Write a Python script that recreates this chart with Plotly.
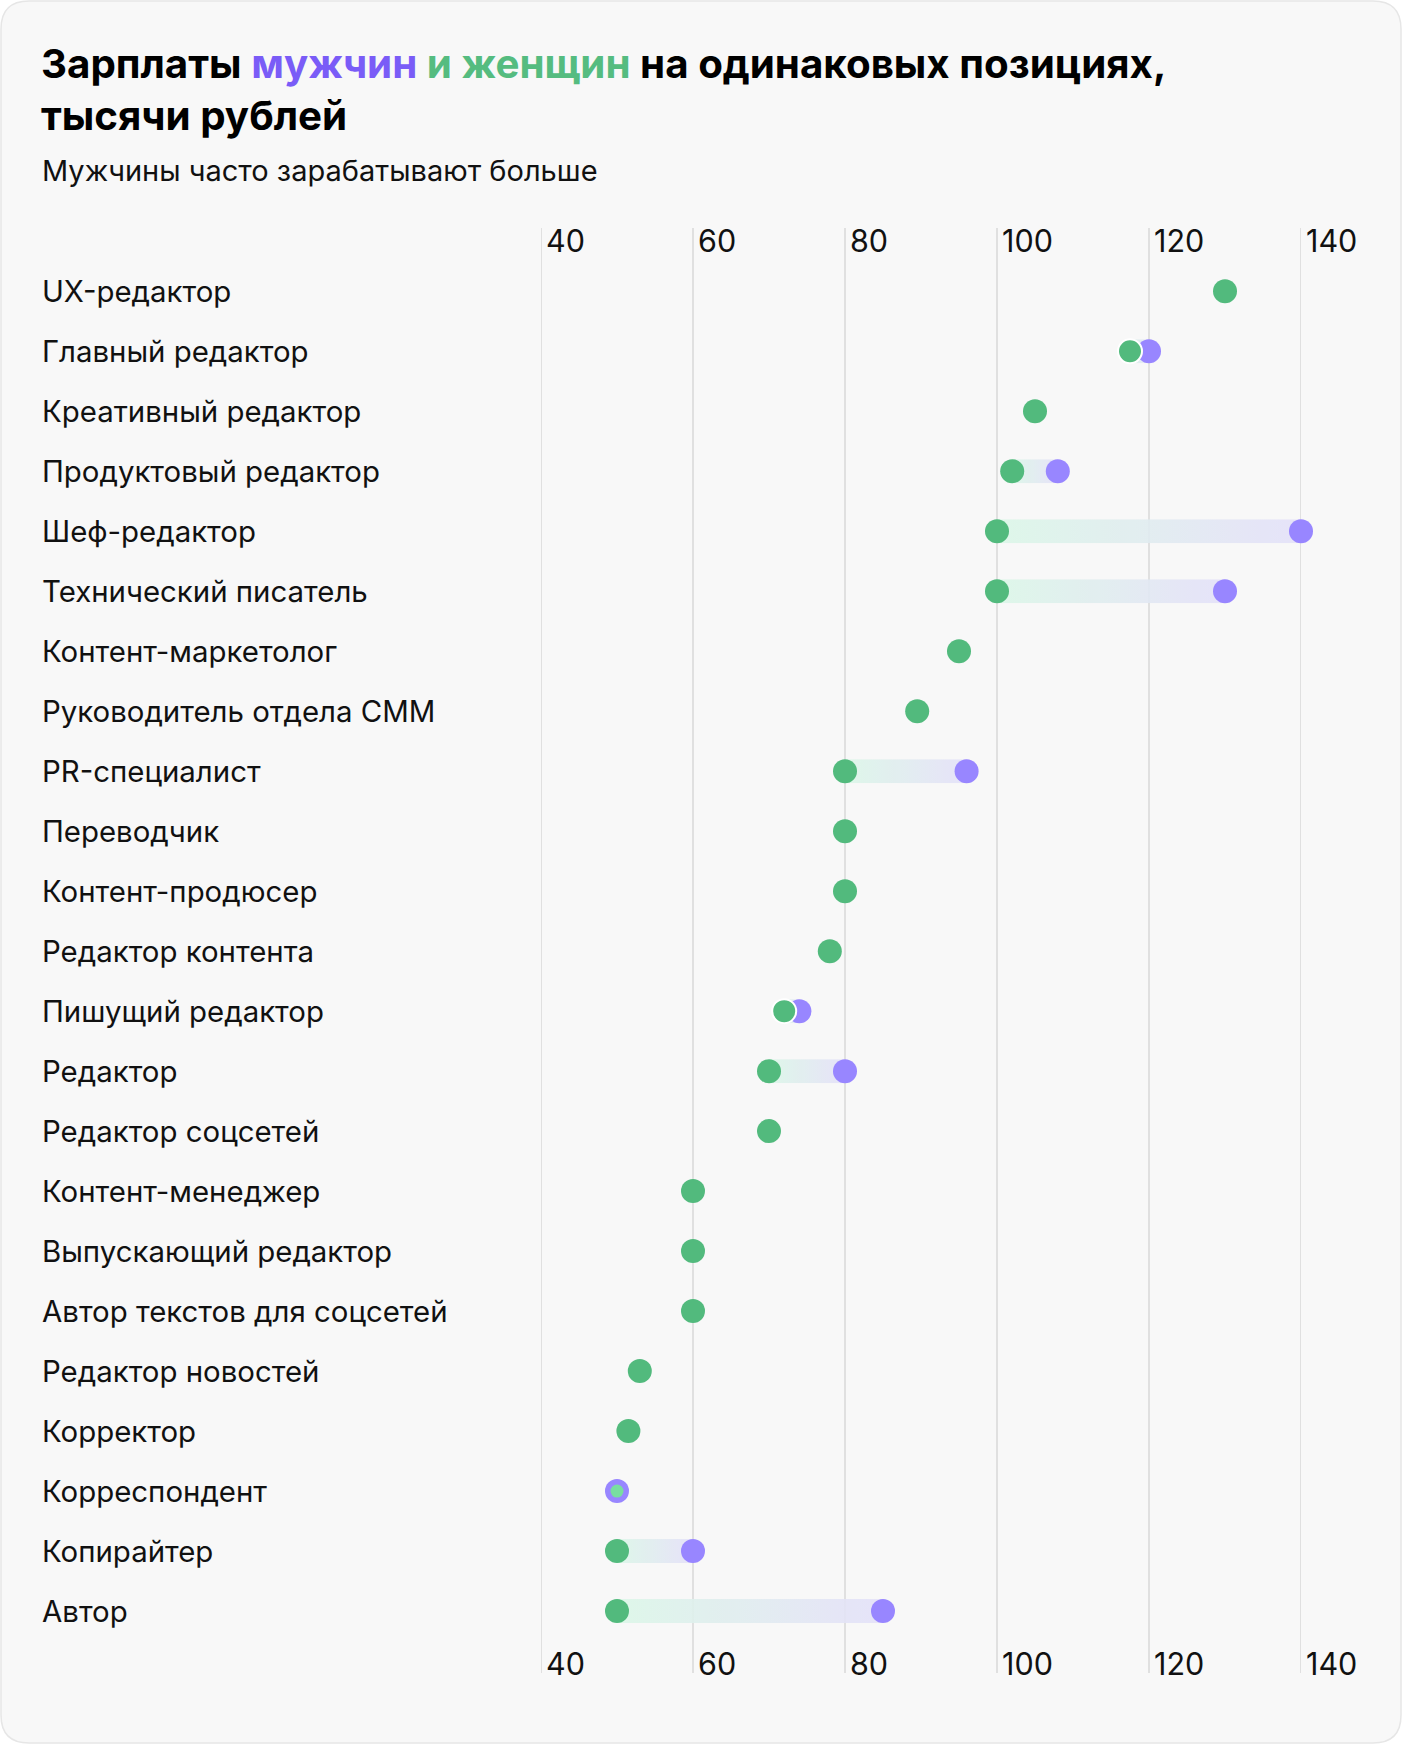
import base64
import plotly.graph_objects as go

# ---------------- data ----------------
categories = ["UX-редактор", "Главный редактор", "Креативный редактор", "Продуктовый редактор",
              "Шеф-редактор", "Технический писатель", "Контент-маркетолог", "Руководитель отдела СММ",
              "PR-специалист", "Переводчик", "Контент-продюсер", "Редактор контента",
              "Пишущий редактор", "Редактор", "Редактор соцсетей", "Контент-менеджер",
              "Выпускающий редактор", "Автор текстов для соцсетей", "Редактор новостей",
              "Корректор", "Корреспондент", "Копирайтер", "Автор"]
women = [130, 117.5, 105, 102, 100, 100, 95, 89.5, 80, 80, 80, 78, 72, 70, 70, 60, 60, 60, 53, 51.5, 50, 50, 50]
men = [None, 120, None, 108, 140, 130, None, None, 96, None, None, None, 74, 80, None, None, None, None,
       None, None, 50, 60, 85]
tick_values = [40, 60, 80, 100, 120, 140]
tick_labels = ["40", "60", "80", "100", "120", "140"]

# ---------------- style ----------------
W, H = 1402, 1744
L, T, PW, PH = 541, 228, 760, 1445
FONT = "Inter"
GREEN = "#52BA7D"
PURPLE = "#9886FF"
GREEN_LIGHT = "#78DEA0"
TITLE_PURPLE = "#7A5CF7"
TITLE_GREEN = "#55BC80"
BG = "#F8F8F8"
DOT = 24

n = len(categories)
ypos = [n - 1 - i for i in range(n)]


def px_x(px):
    return (px - L) / PW


def px_y(py):
    return 1 - (py - T) / PH


fig = go.Figure()

# gradient bars as stretched svg images
svg = ('<svg xmlns="http://www.w3.org/2000/svg" width="100" height="10" viewBox="0 0 100 10" '
       'preserveAspectRatio="none"><defs><linearGradient id="g" x1="0" x2="1" y1="0" y2="0">'
       '<stop offset="0" stop-color="#DCF7E8"/><stop offset="1" stop-color="#E5E1F9"/>'
       '</linearGradient></defs><rect x="0" y="0" width="100" height="10" fill="url(#g)"/></svg>')
svg_uri = "data:image/svg+xml;base64," + base64.b64encode(svg.encode()).decode()

images = []
for y, f, m in zip(ypos, women, men):
    if m is not None and m > f:
        images.append(dict(source=svg_uri, xref="x", yref="y", x=f, y=y + 0.2,
                           sizex=m - f, sizey=0.4, sizing="stretch",
                           xanchor="left", yanchor="top", layer="below", opacity=0.9))

# men dots
mx = [m for m in men if m is not None]
my = [y for y, m in zip(ypos, men) if m is not None]
fig.add_trace(go.Scatter(x=mx, y=my, mode="markers", cliponaxis=False,
                         marker=dict(size=DOT, color=PURPLE, line=dict(width=0), opacity=1),
                         hoverinfo="skip", showlegend=False))

# women dots
same = [m is not None and m == f for f, m in zip(women, men)]
close = [m is not None and m != f and abs(m - f) < 4 for f, m in zip(women, men)]
wsize = [13 if s else DOT for s in same]
wcolor = [GREEN_LIGHT if s else GREEN for s in same]
wline = [2 if c else 0 for c in close]
fig.add_trace(go.Scatter(x=women, y=ypos, mode="markers", cliponaxis=False,
                         marker=dict(size=wsize, color=wcolor, opacity=1,
                                     line=dict(width=wline, color="white")),
                         hoverinfo="skip", showlegend=False))

annotations = []
# category labels
for y, c in zip(ypos, categories):
    annotations.append(dict(text=c, xref="paper", yref="y", x=px_x(40), y=y,
                            xanchor="left", yanchor="middle", showarrow=False,
                            font=dict(family=FONT, size=29.4, color="#111111")))
# tick labels top and bottom
for tv, tl in zip(tick_values, tick_labels):
    for yy, sh in ((1, -12), (0, 10)):
        annotations.append(dict(text=tl, xref="x", yref="paper", x=tv, y=yy, xshift=3, yshift=sh,
                                xanchor="left", yanchor="middle", showarrow=False,
                                font=dict(family=FONT, size=30.5, color="#111111")))
# title & subtitle
title = ('<b>Зарплаты <span style="color:%s">мужчин</span> <span style="color:%s">и женщин</span> '
         'на одинаковых позициях,<br>тысячи рублей</b>' % (TITLE_PURPLE, TITLE_GREEN))
annotations.append(dict(text=title, xref="paper", yref="paper", x=px_x(39), y=px_y(37),
                        xanchor="left", yanchor="top", align="left", showarrow=False,
                        font=dict(family=FONT, size=40.3, color="#000000")))
annotations.append(dict(text="Мужчины часто зарабатывают больше", xref="paper", yref="paper",
                        x=px_x(40), y=px_y(170), xanchor="left", yanchor="middle", showarrow=False,
                        font=dict(family=FONT, size=29, color="#111111")))

# card background (rounded rect)
x0, x1, y0, y1, r = 1, 1401, 1, 1743, 28
path = (f"M {px_x(x0 + r)},{px_y(y0)} L {px_x(x1 - r)},{px_y(y0)} "
        f"Q {px_x(x1)},{px_y(y0)} {px_x(x1)},{px_y(y0 + r)} "
        f"L {px_x(x1)},{px_y(y1 - r)} Q {px_x(x1)},{px_y(y1)} {px_x(x1 - r)},{px_y(y1)} "
        f"L {px_x(x0 + r)},{px_y(y1)} Q {px_x(x0)},{px_y(y1)} {px_x(x0)},{px_y(y1 - r)} "
        f"L {px_x(x0)},{px_y(y0 + r)} Q {px_x(x0)},{px_y(y0)} {px_x(x0 + r)},{px_y(y0)} Z")
shapes = [dict(type="path", xref="paper", yref="paper", path=path, fillcolor=BG,
               line=dict(color="#E6E6E6", width=1.5), layer="below")]
# grid lines
for tv in tick_values:
    shapes.append(dict(type="line", xref="x", yref="paper", x0=tv, x1=tv, y0=0, y1=1,
                       line=dict(color="#E0E0E0", width=2), layer="below"))

fig.update_layout(
    width=W, height=H,
    margin=dict(l=L, r=W - L - PW, t=T, b=H - T - PH, pad=0),
    paper_bgcolor="white", plot_bgcolor="rgba(0,0,0,0)",
    xaxis=dict(range=[40, 140], showticklabels=False, showgrid=False,
               zeroline=False, showline=False, fixedrange=True),
    yaxis=dict(range=[-1.033, 22 + 1.055], showticklabels=False, showgrid=False, zeroline=False,
               showline=False, fixedrange=True),
    annotations=annotations, shapes=shapes, images=images,
    font=dict(family=FONT), showlegend=False,
)

fig.write_html("out.html", config={"displayModeBar": False},
               post_script="document.body.style.margin='0';document.body.style.overflow='hidden';")
